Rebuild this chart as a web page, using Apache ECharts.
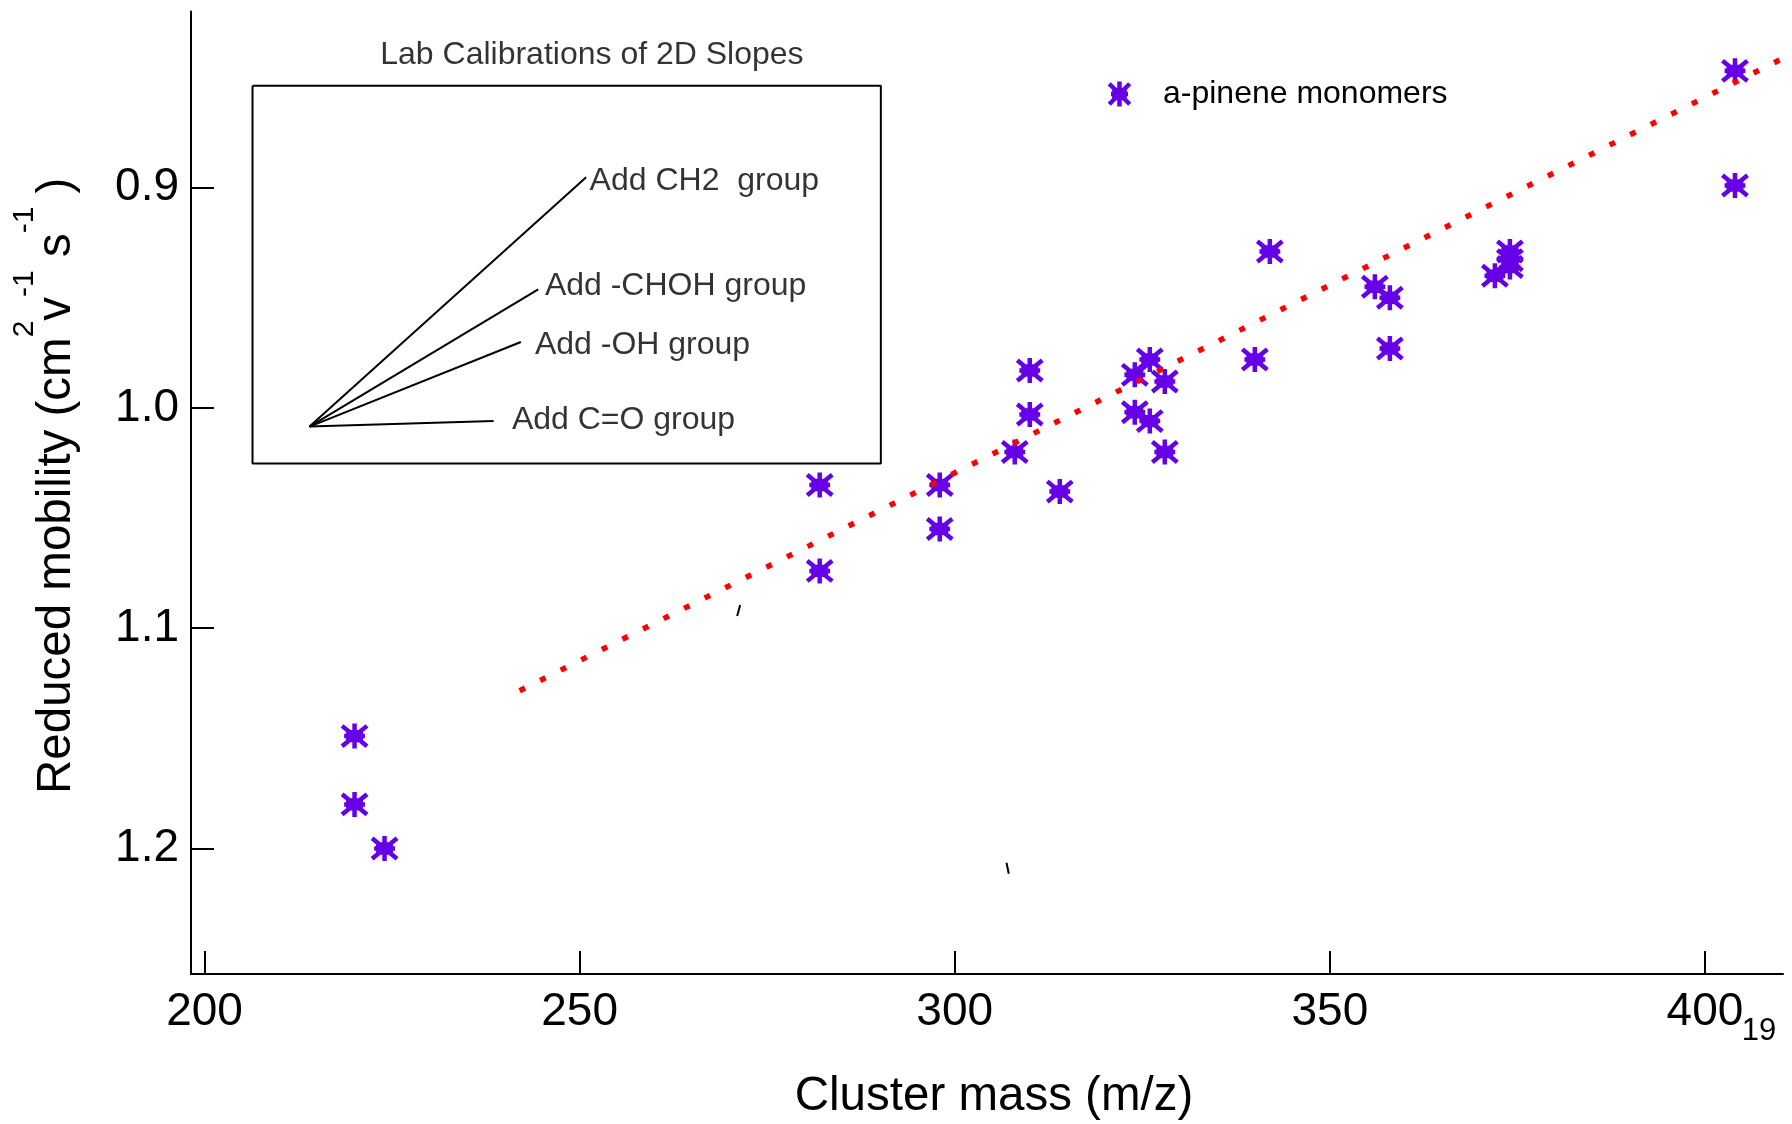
<!DOCTYPE html>
<html>
<head>
<meta charset="utf-8">
<script src="https://cdn.jsdelivr.net/npm/echarts@6/dist/echarts.min.js"></script>
<style>
  html, body { margin: 0; padding: 0; background: #fff; }
  #chart { width: 1792px; height: 1124px; }
</style>
</head>
<body>
<div id="chart"></div>
<script>
var FONT = "'Liberation Sans', Arial, Helvetica, sans-serif";
var PURPLE = '#6600e6';

// a-pinene monomers: cluster mass (m/z) and reduced mobility
var massX = [220, 220, 224, 282, 282, 298, 298, 308, 310, 310, 314, 324, 324, 326,
             326, 328, 328, 340, 342, 356, 358, 358, 372, 374, 374, 374, 404, 404];
var mobilityY = [1.149, 1.180, 1.200, 1.035, 1.074, 1.035, 1.055, 1.020, 0.983, 1.003,
                 1.038, 0.985, 1.002, 0.978, 1.006, 0.988, 1.020, 0.978, 0.929, 0.945,
                 0.950, 0.973, 0.940, 0.929, 0.933, 0.936, 0.847, 0.899];

// red dotted fit line
var trendX = [242.0, 413.5];
var trendY = [1.1284, 0.8360];

// inset "Lab Calibrations of 2D Slopes" (drawn in data units)
var boxX = [206.4, 290.15, 290.15, 206.4, 206.4];
var boxY = [0.8538, 0.8538, 1.0252, 1.0252, 0.8538];
var slopeOrigin = [214.0, 1.0085];
var slopeEndX = [250.87, 244.48, 242.17, 238.53];
var slopeEndY = [0.8953, 0.9462, 0.9701, 1.0059];
var slopeLabels = ['Add CH2  group', 'Add -CHOH group', 'Add -OH group', 'Add C=O group'];
var labelX = [251.33, 245.37, 244.04, 240.97];
var labelY = [0.8969, 0.9446, 0.9716, 1.0054];
var insetTitle = 'Lab Calibrations of 2D Slopes';
var insetTitlePos = [251.64, 0.8399];

// two stray marks on the original
var strayX = [[271.4, 271.0], [306.9, 307.2]];
var strayY = [[1.0895, 1.0945], [1.2065, 1.2115]];

var xTicks = [200, 250, 300, 350, 400];
var yTicks = [0.9, 1.0, 1.1, 1.2];

// y-axis title pieces: [text, superscript?]
var yTitleParts = [
  ['Reduced mobility (cm', false],
  ['2', true],
  ['v', false],
  ['-1', true],
  [' s', false],
  ['-1', true],
  [' )', false]
];

var asterisk = 'path://M2 2L20 20M20 2L2 20M11 0L11 22M3.5 11L18.5 11M6.5 7.5L15.5 7.5L15.5 14.5L6.5 14.5Z';

function pairs(xs, ys) {
  return xs.map(function (x, i) { return [x, ys[i]]; });
}

var measureCtx = document.createElement('canvas').getContext('2d');
function textWidth(t, size) {
  measureCtx.font = size + 'px ' + FONT;
  return measureCtx.measureText(t).width;
}

var chart = echarts.init(document.getElementById('chart'));

var series = [
  {
    name: 'a-pinene monomers',
    type: 'scatter',
    data: pairs(massX, mobilityY),
    symbol: asterisk,
    symbolSize: 25,
    itemStyle: { color: PURPLE, borderColor: PURPLE, borderWidth: 4.5, opacity: 1 },
    z: 3
  },
  {
    type: 'line',
    data: pairs(trendX, trendY),
    showSymbol: false,
    symbol: 'none',
    clip: false,
    silent: true,
    lineStyle: { color: '#ff0000', width: 5.5, type: [6, 17], cap: 'butt' },
    z: 5
  },
  {
    type: 'line',
    data: pairs(boxX, boxY),
    symbol: 'none',
    silent: true,
    lineStyle: { color: '#000', width: 2 },
    z: 2
  }
];

slopeEndX.forEach(function (x, i) {
  series.push({
    type: 'line',
    data: [slopeOrigin, [x, slopeEndY[i]]],
    symbol: 'none',
    silent: true,
    lineStyle: { color: '#000', width: 2 },
    z: 2
  });
});

strayX.forEach(function (xs, i) {
  series.push({
    type: 'line',
    data: pairs(xs, strayY[i]),
    symbol: 'none',
    silent: true,
    lineStyle: { color: '#000', width: 2 },
    z: 2
  });
});

// inset texts
var noteData = slopeLabels.map(function (t, i) {
  return { name: t, value: [labelX[i], labelY[i]] };
});
noteData.push({
  name: insetTitle,
  value: insetTitlePos,
  label: { position: 'inside', align: 'center' }
});
series.push({
  type: 'scatter',
  data: noteData,
  symbolSize: 0,
  silent: true,
  itemStyle: { color: '#000' },
  label: {
    show: true,
    position: 'right',
    distance: 0,
    formatter: function (p) { return p.name; },
    color: '#000',
    textBorderWidth: 0,
    fontSize: 32,
    fontFamily: FONT
  },
  z: 4
});

// y-axis title, laid out piece by piece bottom-to-top
var MAIN_FS = 47.5, SUP_FS = 30;
var MAIN_BASE_X = 73, SUP_BASE_X = 35;
var yPos = 794;
var graphics = [];
yTitleParts.forEach(function (p) {
  var fs = p[1] ? SUP_FS : MAIN_FS;
  var baseX = p[1] ? SUP_BASE_X : MAIN_BASE_X;
  graphics.push({
    type: 'text',
    x: baseX - 0.34 * fs,
    y: yPos,
    rotation: Math.PI / 2,
    style: {
      text: p[0],
      font: fs + 'px ' + FONT,
      align: 'left', verticalAlign: 'middle',
      textAlign: 'left', textVerticalAlign: 'middle',
      fill: '#000'
    }
  });
  yPos -= textWidth(p[0], fs);
});

graphics.push({
  type: 'text',
  x: 994,
  y: 1097,
  style: {
    text: 'Cluster mass (m/z)',
    font: '47.5px ' + FONT,
    align: 'center', verticalAlign: 'middle',
    textAlign: 'center', textVerticalAlign: 'middle',
    fill: '#000'
  }
});
graphics.push({
  type: 'text',
  x: 1759,
  y: 1031,
  style: {
    text: '19',
    font: '31px ' + FONT,
    align: 'center', verticalAlign: 'middle',
    textAlign: 'center', textVerticalAlign: 'middle',
    fill: '#000'
  }
});

var option = {
  animation: false,
  backgroundColor: '#fff',
  grid: { left: 191, right: 9, top: 11.4, bottom: 150, containLabel: false, outerBoundsMode: 'none' },
  legend: {
    data: ['a-pinene monomers'],
    left: 1102,
    top: 73,
    itemWidth: 25,
    itemHeight: 25,
    icon: asterisk,
    itemStyle: { color: PURPLE, borderColor: PURPLE, borderWidth: 4.5 },
    textStyle: { fontSize: 32, fontFamily: FONT, color: '#000', padding: [0, 0, 0, 26] }
  },
  xAxis: {
    type: 'value',
    min: 198.2,
    max: 410.4,
    splitLine: { show: false },
    axisLine: { onZero: false, lineStyle: { color: '#000', width: 2 } },
    axisTick: { inside: true, length: 23, lineStyle: { color: '#000', width: 2 }, customValues: xTicks },
    axisLabel: { customValues: xTicks, margin: 15, fontSize: 46, fontFamily: FONT, color: '#000' }
  },
  yAxis: {
    type: 'value',
    inverse: true,
    min: 0.82,
    max: 1.257,
    splitLine: { show: false },
    axisLine: { show: true, onZero: false, lineStyle: { color: '#000', width: 2 } },
    axisTick: { show: true, inside: true, length: 23, lineStyle: { color: '#000', width: 2 }, customValues: yTicks },
    axisLabel: {
      customValues: yTicks, margin: 12, fontSize: 46, fontFamily: FONT, color: '#000',
      formatter: function (v) { return v.toFixed(1); }
    }
  },
  graphic: graphics,
  series: series
};

chart.setOption(option);
</script>
</body>
</html>
